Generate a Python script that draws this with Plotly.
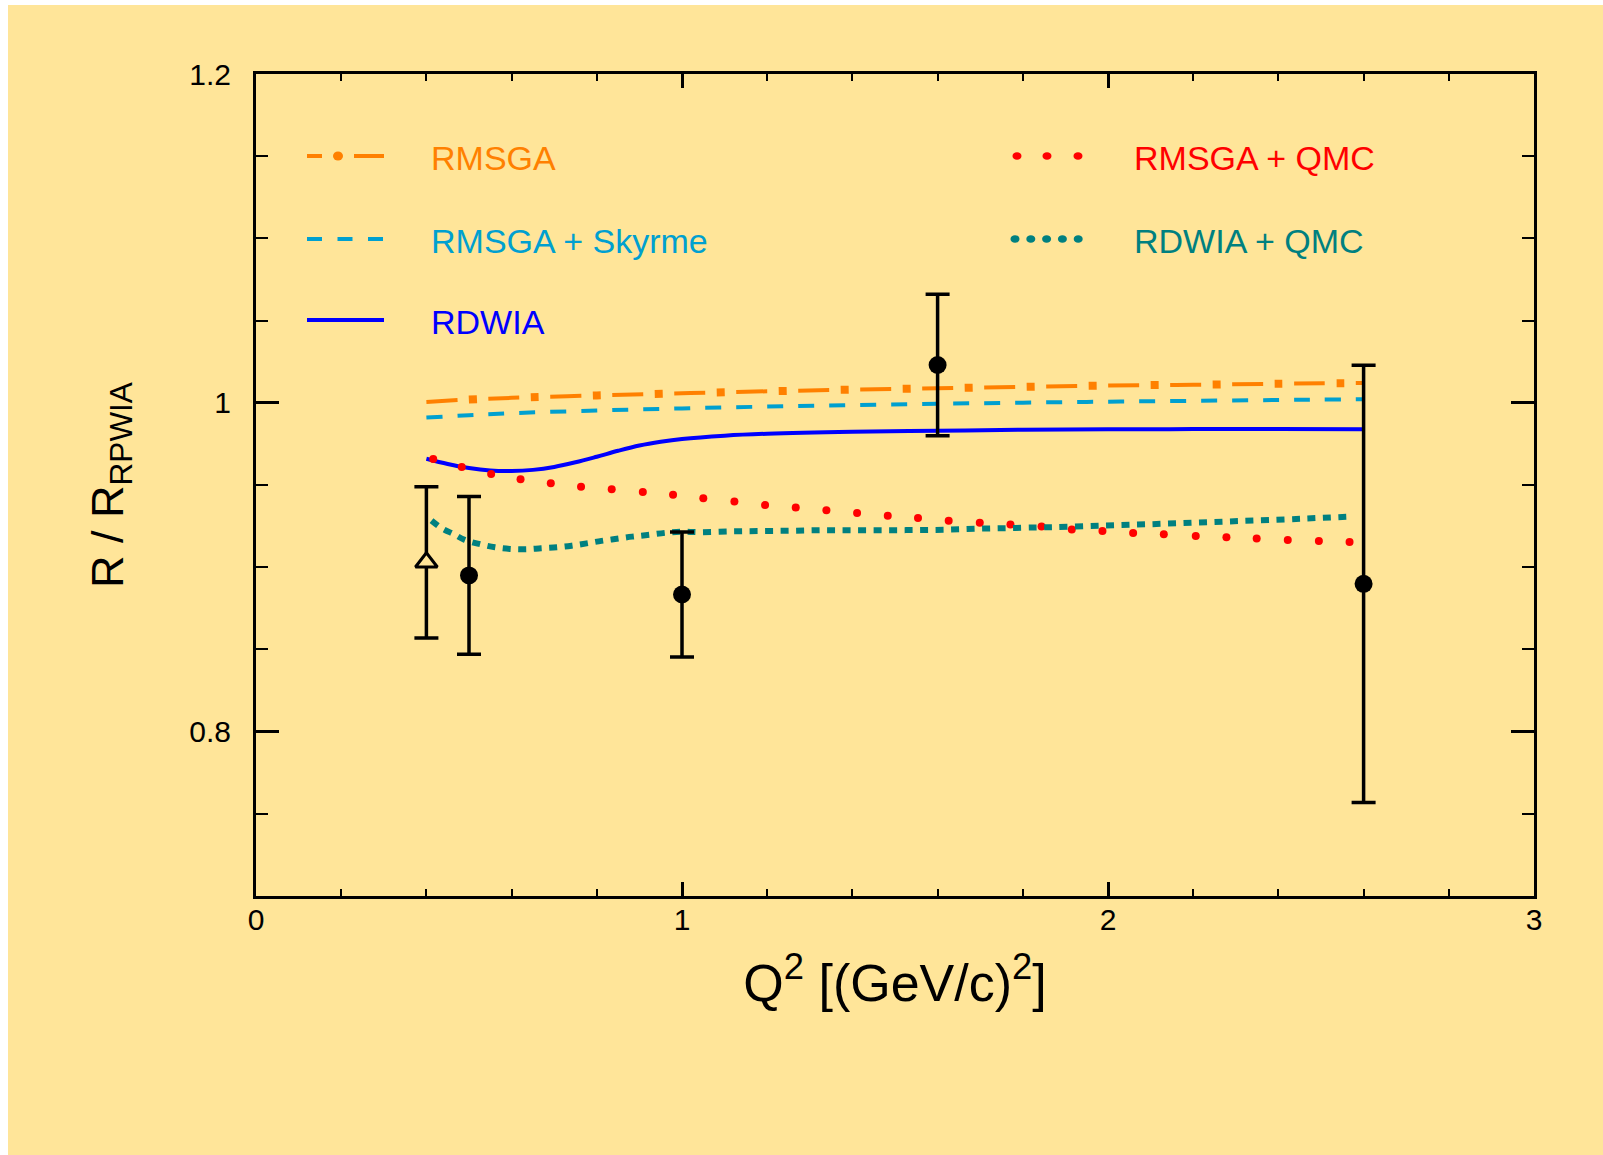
import plotly.graph_objects as go

# ---------------- data ----------------
q_rmsga = [0.4, 0.5, 0.6, 0.8, 1.0, 1.2, 1.4, 1.6, 1.8, 2.0, 2.2, 2.4, 2.6]
r_rmsga = [1.0005, 1.002, 1.003, 1.0045, 1.0058, 1.007, 1.008, 1.0088, 1.0097, 1.0105, 1.011, 1.0116, 1.012]

q_skyrme = [0.4, 0.5, 0.6, 0.8, 1.0, 1.2, 1.4, 1.6, 1.8, 2.0, 2.2, 2.4, 2.6]
r_skyrme = [0.991, 0.9925, 0.9937, 0.9953, 0.9966, 0.9977, 0.9986, 0.9994, 1.0001, 1.0007, 1.0012, 1.0017, 1.0022]

q_rdwia = [0.4, 0.45, 0.5, 0.55, 0.6, 0.65, 0.7, 0.75, 0.8, 0.85, 0.9, 0.95, 1.0, 1.1, 1.2, 1.4, 1.6, 1.8, 2.0, 2.2, 2.4, 2.6]
r_rdwia = [0.966, 0.9628, 0.9603, 0.9588, 0.9585, 0.9592, 0.961, 0.9638, 0.9672, 0.9708, 0.974, 0.9763, 0.978,
           0.98, 0.9812, 0.9824, 0.983, 0.9836, 0.9839, 0.984, 0.984, 0.9839]

q_rmsga_qmc = [0.416, 0.483, 0.552, 0.621, 0.692, 0.763, 0.835, 0.908, 0.979, 1.05, 1.123, 1.195, 1.267, 1.339,
               1.411, 1.483, 1.554, 1.626, 1.699, 1.771, 1.844, 1.915, 1.987, 2.059, 2.131, 2.206, 2.278, 2.349,
               2.422, 2.495, 2.567]
r_rmsga_qmc = [0.9658, 0.961, 0.9567, 0.9535, 0.951, 0.949, 0.9474, 0.9457, 0.944, 0.942, 0.940, 0.9378, 0.9363,
               0.9346, 0.933, 0.9313, 0.930, 0.9283, 0.9271, 0.9259, 0.9247, 0.923, 0.922, 0.9208, 0.920, 0.919,
               0.9182, 0.9174, 0.9166, 0.916, 0.9153]

q_rdwia_qmc = [0.412, 0.436, 0.465, 0.49, 0.526, 0.561, 0.596, 0.633, 0.669, 0.706, 0.741, 0.776, 0.811, 0.847,
               0.883, 0.919, 0.964, 1.0, 1.04, 1.113, 1.185, 1.258, 1.33, 1.402, 1.477, 1.549, 1.621, 1.694,
               1.766, 1.833, 1.876, 1.984, 2.093, 2.203, 2.311, 2.419, 2.491, 2.564]
r_rdwia_qmc = [0.9283, 0.9237, 0.92, 0.9166, 0.914, 0.9121, 0.9111, 0.9109, 0.9115, 0.9121, 0.9131, 0.9145, 0.916,
               0.9173, 0.9186, 0.9196, 0.921, 0.9216, 0.9213, 0.9218, 0.922, 0.9222, 0.9225, 0.9225, 0.9225,
               0.9226, 0.9228, 0.9234, 0.9238, 0.9242, 0.9244, 0.9253, 0.9261, 0.9271, 0.9281, 0.9291, 0.9299,
               0.9307]

q_exp = [0.5, 1.0, 1.6, 2.6]
r_exp = [0.895, 0.8834, 1.023, 0.8899]
e_exp = [0.048, 0.038, 0.043, 0.133]

q_tri = [0.4]
r_tri = [0.903]
e_tri = [0.046]

legend_names = ["RMSGA", "RMSGA + Skyrme", "RDWIA", "RMSGA + QMC", "RDWIA + QMC"]
x_ticks = [0, 1, 2, 3]

# ---------------- style ----------------
BG = "#FFE599"
ORANGE = "#FF8000"
CYAN = "#00A0D0"
BLUE = "#0000FF"
RED = "#FF0000"
TEAL = "#008080"
FONT = "Liberation Sans, Arial, sans-serif"

W, H = 1603, 1155
L, R, T, B = 256, 69, 74, 259
PW, PH = W - L - R, H - T - B


def px(xp):
    return (xp - L) / PW


def py(yp):
    return (H - B - yp) / PH


fig = go.Figure()

fig.add_trace(go.Scatter(x=q_rmsga, y=r_rmsga, mode="lines", line=dict(color=ORANGE, width=4, dash="31px,31px", shape="spline"),
                         showlegend=False, hoverinfo="skip"))
fig.add_trace(go.Scatter(x=q_rmsga, y=r_rmsga, mode="lines", line=dict(color=ORANGE, width=8, dash="0px,42.5px,8px,11.5px", shape="spline"),
                         showlegend=False, name=legend_names[0]))
fig.add_trace(go.Scatter(x=q_skyrme, y=r_skyrme, mode="lines", line=dict(color=CYAN, width=4, dash="16px,15px", shape="spline"),
                         showlegend=False, name=legend_names[1]))
fig.add_trace(go.Scatter(x=q_rdwia, y=r_rdwia, mode="lines", line=dict(color=BLUE, width=4, shape="spline"),
                         showlegend=False, name=legend_names[2]))
fig.add_trace(go.Scatter(x=q_rmsga_qmc, y=r_rmsga_qmc, mode="markers", marker=dict(color=RED, size=8),
                         showlegend=False, name=legend_names[3]))
fig.add_trace(go.Scatter(x=q_rdwia_qmc, y=r_rdwia_qmc, mode="lines", line=dict(color=TEAL, width=6, dash="8px,7.5px", shape="spline"),
                         showlegend=False, name=legend_names[4]))

fig.add_trace(go.Scatter(x=q_exp, y=r_exp, mode="markers",
                         marker=dict(color="black", size=18, symbol="circle"),
                         error_y=dict(type="data", array=e_exp, color="black", thickness=3.5, width=12),
                         showlegend=False))
fig.add_trace(go.Scatter(x=q_tri, y=r_tri, mode="markers",
                         marker=dict(color=BG, size=19, symbol="triangle-up", line=dict(color="black", width=3)),
                         error_y=dict(type="data", array=e_tri, color="black", thickness=3.5, width=12),
                         showlegend=False))

shapes = []
# white strips at top and left edge of the picture
shapes.append(dict(type="rect", xref="paper", yref="paper", x0=px(0), x1=px(8), y0=py(H), y1=py(0),
                   fillcolor="white", line=dict(width=0), layer="below"))
shapes.append(dict(type="rect", xref="paper", yref="paper", x0=px(0), x1=px(W), y0=py(5), y1=py(0),
                   fillcolor="white", line=dict(width=0), layer="below"))

# legend samples
yl = [156, 239, 320]
shapes.append(dict(type="line", xref="paper", yref="paper", x0=px(307), x1=px(322), y0=py(yl[0]), y1=py(yl[0]),
                   line=dict(color=ORANGE, width=4)))
shapes.append(dict(type="circle", xref="paper", yref="paper", xsizemode="pixel", ysizemode="pixel",
                   xanchor=px(338), yanchor=py(yl[0]), x0=-5, x1=5, y0=-4.5, y1=4.5,
                   fillcolor=ORANGE, line=dict(width=0)))
shapes.append(dict(type="line", xref="paper", yref="paper", x0=px(354), x1=px(384), y0=py(yl[0]), y1=py(yl[0]),
                   line=dict(color=ORANGE, width=4)))
shapes.append(dict(type="line", xref="paper", yref="paper", x0=px(307), x1=px(384), y0=py(yl[1]), y1=py(yl[1]),
                   line=dict(color=CYAN, width=4, dash="15px,15.5px")))
shapes.append(dict(type="line", xref="paper", yref="paper", x0=px(307), x1=px(384), y0=py(yl[2]), y1=py(yl[2]),
                   line=dict(color=BLUE, width=4)))
for xd in [1017, 1047, 1078]:
    shapes.append(dict(type="circle", xref="paper", yref="paper", xsizemode="pixel", ysizemode="pixel",
                       xanchor=px(xd), yanchor=py(156), x0=-4.5, x1=4.5, y0=-3.8, y1=3.8,
                       fillcolor=RED, line=dict(width=0)))
for i in range(5):
    shapes.append(dict(type="circle", xref="paper", yref="paper", xsizemode="pixel", ysizemode="pixel",
                       xanchor=px(1015 + i * 15.8), yanchor=py(239), x0=-4.5, x1=4.5, y0=-3.8, y1=3.8,
                       fillcolor=TEAL, line=dict(width=0)))

annotations = []
leg_pos = [(429, 156, ORANGE), (429, 239, CYAN), (429, 320, BLUE), (1132, 156, RED), (1132, 239, TEAL)]
for name, (xa, ya, col) in zip(legend_names, leg_pos):
    annotations.append(dict(text=name, xref="paper", yref="paper", x=px(xa), y=py(ya + 2),
                            xanchor="left", yanchor="middle", showarrow=False,
                            font=dict(family=FONT, size=34, color=col)))

fig.update_layout(
    width=W, height=H,
    margin=dict(l=L, r=R, t=T, b=B, autoexpand=False),
    paper_bgcolor=BG, plot_bgcolor=BG,
    font=dict(family=FONT, color="black"),
    shapes=shapes, annotations=annotations,
    showlegend=False,
)

fig.update_xaxes(
    range=[0, 3], tickmode="array", tickvals=x_ticks, ticktext=[str(v) for v in x_ticks],
    ticks="inside", ticklen=14, tickwidth=2.5, tickcolor="black",
    showline=True, linewidth=3, linecolor="black", mirror="ticks",
    showgrid=False, zeroline=False,
    minor=dict(dtick=0.2, tick0=0, ticks="inside", ticklen=7, tickwidth=2, tickcolor="black", showgrid=False),
    tickfont=dict(family=FONT, size=30, color="black"), ticklabelstandoff=-5,
    title=dict(text="Q<sup>2</sup> [(GeV/c)<sup>2</sup>]", font=dict(family=FONT, size=52, color="black"), standoff=30),
)
fig.update_yaxes(
    range=[0.7, 1.2], tick0=0, dtick=0.2,
    ticks="inside", ticklen=23, tickwidth=2.5, tickcolor="black",
    showline=True, linewidth=3, linecolor="black", mirror="ticks",
    showgrid=False, zeroline=False,
    minor=dict(dtick=0.05, tick0=0, ticks="inside", ticklen=12, tickwidth=2, tickcolor="black", showgrid=False),
    tickfont=dict(family=FONT, size=30, color="black"), ticklabelstandoff=16,
    title=dict(text="R / R<sub>RPWIA</sub>", font=dict(family=FONT, size=45, color="black"), standoff=52),
)

fig.write_html("out.html")
